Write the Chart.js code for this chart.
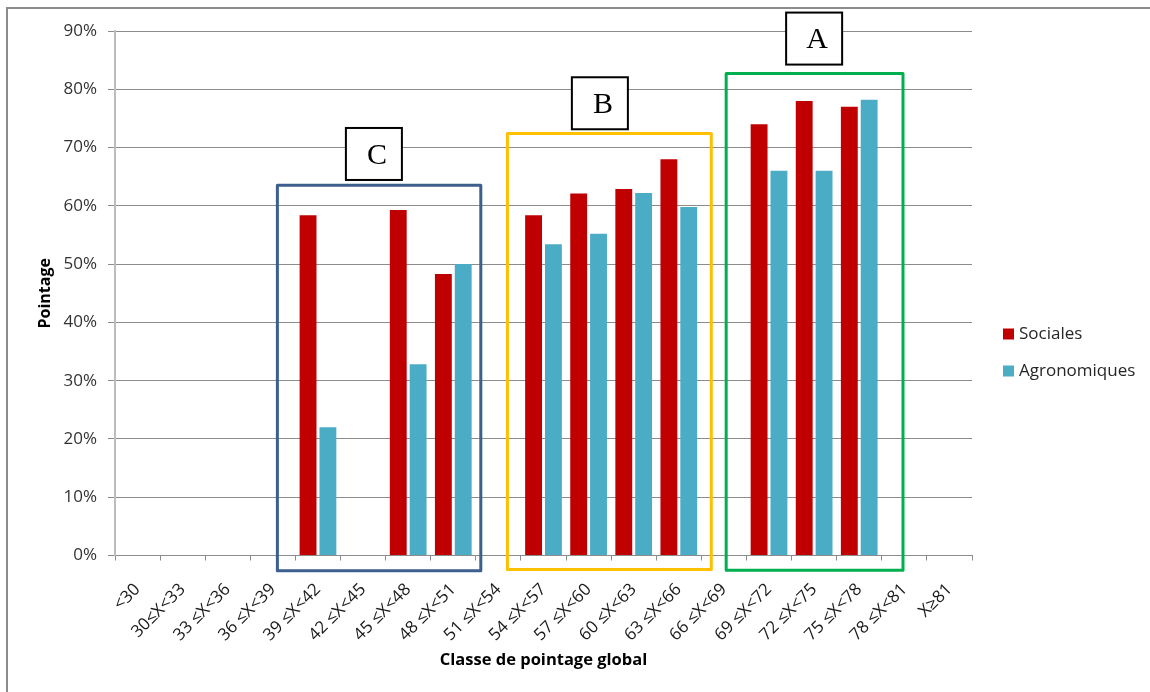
<!DOCTYPE html>
<html>
<head>
<meta charset="utf-8">
<script src="https://cdn.jsdelivr.net/npm/chart.js@4/dist/chart.umd.min.js"></script>
<style>
  html, body { margin: 0; padding: 0; background: #fff; }
  #wrap { position: relative; width: 1150px; height: 692px; }
  canvas { display: block; }
</style>
</head>
<body>
<div id="wrap"><canvas id="chart" width="1150" height="692"></canvas></div>
<script>
// Score classes (x axis)
const categories = ['<30', '30≤X<33', '33 ≤X<36', '36 ≤X<39', '39 ≤X<42', '42 ≤X<45',
  '45 ≤X<48', '48 ≤X<51', '51 ≤X<54', '54 ≤X<57', '57 ≤X<60', '60 ≤X<63', '63 ≤X<66',
  '66 ≤X<69', '69 ≤X<72', '72 ≤X<75', '75 ≤X<78', '78 ≤X<81', 'X≥81'];

// Average score (%) per class
const sociales = [null, null, null, null, 58.4, null, 59.3, 48.3, null, 58.4, 62.1, 62.9, 68.0,
  null, 74.0, 78.0, 77.0, null, null];
const agronomiques = [null, null, null, null, 22.0, null, 32.8, 50.0, null, 53.4, 55.2, 62.2, 59.8,
  null, 66.0, 66.0, 78.2, null, null];

const seriesNames = ['Sociales', 'Agronomiques'];
const yMax = 90;
const yStep = 10;

// Group letters
const groupLetters = ['C', 'B', 'A'];

// Group frames, in axis units (category index, percent)
const groupFrames = [
  { letter: 'C', color: '#3C5F8E', x0: 3.10, x1: 7.61, top: 63.55, bottom: -2.6, lx: 5.24, ly: 68.9 },
  { letter: 'B', color: '#FFC000', x0: 8.20, x1: 12.72, top: 72.4, bottom: -2.4, lx: 10.25, ly: 77.6 },
  { letter: 'A', color: '#00B050', x0: 13.05, x1: 16.97, top: 82.7, bottom: -2.55, lx: 15.0, ly: 88.7 }
];

const FONT = '"Open Sans", "Noto Sans", sans-serif';

const pageFrame = {
  id: 'pageFrame',
  beforeDraw(chart) {
    const ctx = chart.ctx;
    ctx.save();
    ctx.fillStyle = '#ffffff';
    ctx.fillRect(0, 0, chart.width, chart.height);
    ctx.strokeStyle = '#8c8c8c';
    ctx.lineWidth = 2;
    ctx.beginPath();
    ctx.moveTo(7, chart.height);
    ctx.lineTo(7, 8);
    ctx.lineTo(chart.width, 8);
    ctx.stroke();
    ctx.restore();
  }
};

const groupBoxes = {
  id: 'groupBoxes',
  afterDatasetsDraw(chart) {
    const ctx = chart.ctx;
    const xs = chart.scales.x, ys = chart.scales.y;
    ctx.save();
    groupFrames.forEach(g => {
      if (!groupLetters.includes(g.letter)) return;
      const l = xs.getPixelForValue(g.x0), r = xs.getPixelForValue(g.x1);
      const t = ys.getPixelForValue(g.top), b = ys.getPixelForValue(g.bottom);
      ctx.lineWidth = 3;
      ctx.lineJoin = 'round';
      ctx.strokeStyle = g.color;
      ctx.strokeRect(l, t, r - l, b - t);
      // letter tag
      const cx = xs.getPixelForValue(g.lx), cy = ys.getPixelForValue(g.ly);
      const w = 56, h = 52;
      ctx.fillStyle = '#ffffff';
      ctx.fillRect(cx - w / 2, cy - h / 2, w, h);
      ctx.lineWidth = 2;
      ctx.lineJoin = 'miter';
      ctx.strokeStyle = '#000000';
      ctx.strokeRect(cx - w / 2, cy - h / 2, w, h);
      ctx.fillStyle = '#000000';
      ctx.font = '30px "Liberation Serif", "DejaVu Serif", serif';
      ctx.textAlign = 'center';
      ctx.textBaseline = 'middle';
      ctx.fillText(g.letter, cx + 3, cy + 2);
    });
    ctx.restore();
  }
};

const sideLegend = {
  id: 'sideLegend',
  afterDraw(chart) {
    const ctx = chart.ctx;
    const area = chart.chartArea;
    const x = area.right + 31;
    const y0 = area.top + 303;
    ctx.save();
    ctx.font = '17px ' + FONT;
    ctx.textAlign = 'left';
    ctx.textBaseline = 'middle';
    chart.data.datasets.forEach((ds, i) => {
      const y = y0 + i * 37;
      ctx.fillStyle = ds.backgroundColor;
      ctx.fillRect(x, y - 5.5, 11, 11);
      ctx.fillStyle = '#262626';
      ctx.fillText(ds.label, x + 16, y);
    });
    ctx.restore();
  }
};

new Chart(document.getElementById('chart'), {
  type: 'bar',
  data: {
    labels: categories,
    datasets: [
      { label: seriesNames[0], data: sociales, backgroundColor: '#C00000',
        categoryPercentage: 0.88, barPercentage: 0.85 },
      { label: seriesNames[1], data: agronomiques, backgroundColor: '#4BACC6',
        categoryPercentage: 0.88, barPercentage: 0.85 }
    ]
  },
  plugins: [pageFrame, groupBoxes, sideLegend],
  options: {
    responsive: false,
    animation: false,
    devicePixelRatio: 1,
    layout: { padding: { top: 31, right: 178, bottom: 10, left: 10 } },
    plugins: {
      legend: { display: false },
      tooltip: { enabled: false }
    },
    scales: {
      x: {
        offset: true,
        grid: { display: true, drawOnChartArea: false, drawTicks: true, tickLength: 5,
                color: '#8c8c8c', offset: true },
        border: { display: true, color: '#8c8c8c', width: 1 },
        ticks: { autoSkip: false, maxRotation: 45, minRotation: 45, padding: 19,
                 color: '#1a1a1a', font: { family: FONT, size: 17 } },
        title: { display: true, text: 'Classe de pointage global', color: '#000',
                 font: { family: FONT, size: 16.5, weight: 'bold' }, padding: { top: 0, bottom: 12 } },
        afterFit(scale) { scale.height = 126.5; }
      },
      y: {
        min: 0, max: yMax,
        grid: { color: '#8c8c8c', lineWidth: 1, drawTicks: true, tickLength: 7 },
        border: { display: true, color: '#bdbdbd', width: 2 },
        ticks: { stepSize: yStep, padding: 11, color: '#333333',
                 font: { family: FONT, size: 17 },
                 callback: v => v + '%' },
        title: { display: true, text: 'Pointage', color: '#000',
                 font: { family: FONT, size: 16, weight: 'bold' }, padding: { top: 26, bottom: 0 } },
        afterFit(scale) { scale.width = 105; }
      }
    }
  }
});
</script>
</body>
</html>
